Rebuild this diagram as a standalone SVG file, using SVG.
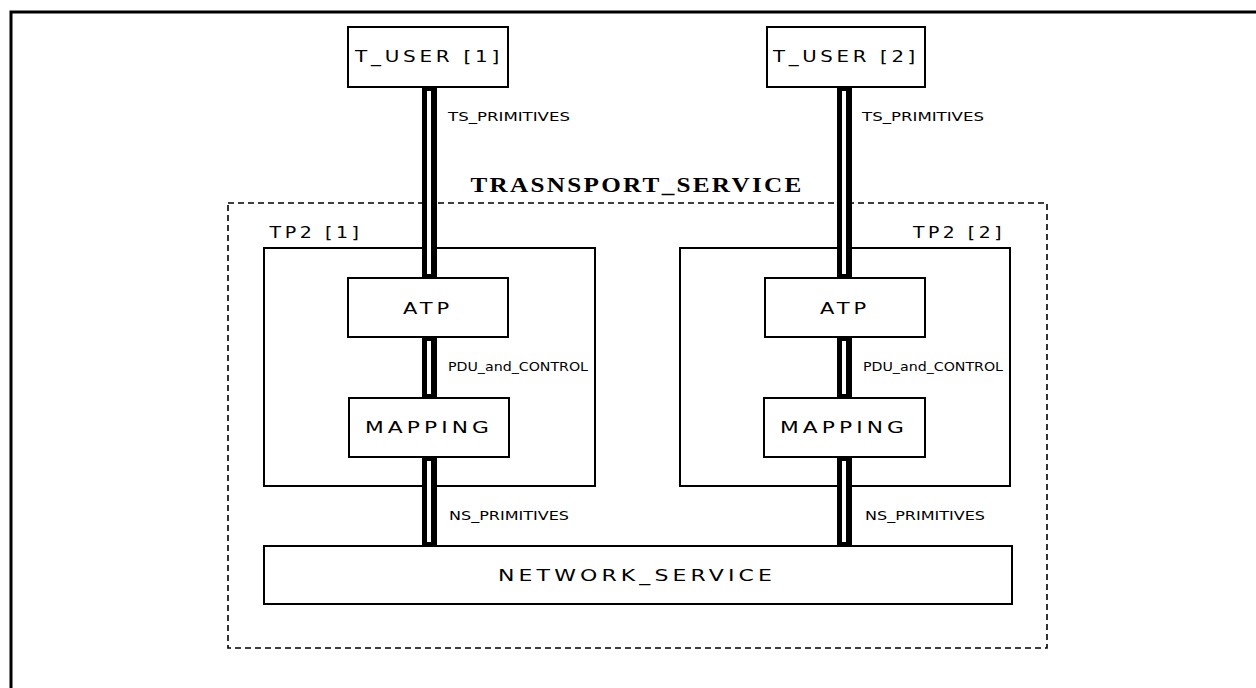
<svg xmlns="http://www.w3.org/2000/svg" width="1256" height="688" viewBox="0 0 1256 688">
<style>
.box{fill:#fff;stroke:#000;stroke-width:2}
.frame{fill:none;stroke:#000;stroke-width:3}
.dash{fill:none;stroke:#000;stroke-width:1.6;stroke-dasharray:6 4}
.lbl{font-family:"DejaVu Sans",sans-serif;font-size:16px;letter-spacing:3px;fill:#000;text-anchor:middle;dominant-baseline:central}
.ch{font-family:"DejaVu Sans Condensed","DejaVu Sans",sans-serif;font-size:12px;fill:#000;dominant-baseline:central}
.title{font-family:"Liberation Serif",serif;font-weight:bold;font-size:22px;letter-spacing:2px;fill:#000;text-anchor:middle;dominant-baseline:central}
.pipe{fill:#000}
.pipein{fill:#fff}
</style>
<rect width="1256" height="688" fill="#fff"/>
<path class="frame" d="M11,688 V12 H1256"/>

<g id="transport_service">
<rect class="dash" x="228" y="203" width="819" height="445"/>
<text class="title" x="637" y="184" textLength="333" lengthAdjust="spacingAndGlyphs">TRASNSPORT_SERVICE</text>
</g>

<g id="tp2_1">
<rect class="box" x="264" y="248" width="331" height="238"/>
<text class="lbl" x="316" y="232" textLength="93" lengthAdjust="spacingAndGlyphs">TP2 [1]</text>
</g>
<g id="tp2_2">
<rect class="box" x="680" y="248" width="330" height="238"/>
<text class="lbl" x="959" y="232" textLength="92" lengthAdjust="spacingAndGlyphs">TP2 [2]</text>
</g>

<g id="t_user_1">
<rect class="box" x="348" y="27" width="160" height="60"/>
<text class="lbl" x="429" y="56" textLength="148" lengthAdjust="spacingAndGlyphs">T_USER [1]</text>
</g>
<g id="t_user_2">
<rect class="box" x="767" y="27" width="158" height="60"/>
<text class="lbl" x="846" y="56" textLength="146" lengthAdjust="spacingAndGlyphs">T_USER [2]</text>
</g>

<g id="atp_1">
<rect class="box" x="348" y="278" width="160" height="59"/>
<text class="lbl" x="428" y="308" textLength="50" lengthAdjust="spacingAndGlyphs">ATP</text>
</g>
<g id="atp_2">
<rect class="box" x="765" y="278" width="160" height="59"/>
<text class="lbl" x="845" y="308" textLength="50" lengthAdjust="spacingAndGlyphs">ATP</text>
</g>

<g id="mapping_1">
<rect class="box" x="349" y="398" width="160" height="59"/>
<text class="lbl" x="429" y="427" textLength="128" lengthAdjust="spacingAndGlyphs">MAPPING</text>
</g>
<g id="mapping_2">
<rect class="box" x="764" y="398" width="161" height="59"/>
<text class="lbl" x="844" y="427" textLength="128" lengthAdjust="spacingAndGlyphs">MAPPING</text>
</g>

<g id="network_service">
<rect class="box" x="264" y="546" width="748" height="58"/>
<text class="lbl" x="637" y="575" textLength="278" lengthAdjust="spacingAndGlyphs">NETWORK_SERVICE</text>
</g>

<g id="connectors">
<rect class="pipe" x="422" y="86" width="15" height="193"/>
<rect class="pipein" x="427" y="91" width="4" height="183"/>
<rect class="pipe" x="837" y="86" width="15" height="193"/>
<rect class="pipein" x="842" y="91" width="4" height="183"/>
<rect class="pipe" x="422" y="336" width="15" height="63"/>
<rect class="pipein" x="427" y="341" width="4" height="53"/>
<rect class="pipe" x="837" y="336" width="15" height="63"/>
<rect class="pipein" x="842" y="341" width="4" height="53"/>
<rect class="pipe" x="422" y="456" width="15" height="91"/>
<rect class="pipein" x="427" y="461" width="4" height="81"/>
<rect class="pipe" x="837" y="456" width="15" height="91"/>
<rect class="pipein" x="842" y="461" width="4" height="81"/>
<text class="ch" x="448" y="117" textLength="122" lengthAdjust="spacingAndGlyphs">TS_PRIMITIVES</text>
<text class="ch" x="862" y="117" textLength="122" lengthAdjust="spacingAndGlyphs">TS_PRIMITIVES</text>
<text class="ch" x="448" y="367" textLength="140" lengthAdjust="spacingAndGlyphs">PDU_and_CONTROL</text>
<text class="ch" x="863" y="367" textLength="140" lengthAdjust="spacingAndGlyphs">PDU_and_CONTROL</text>
<text class="ch" x="449" y="516" textLength="120" lengthAdjust="spacingAndGlyphs">NS_PRIMITIVES</text>
<text class="ch" x="865" y="516" textLength="120" lengthAdjust="spacingAndGlyphs">NS_PRIMITIVES</text>
</g>
</svg>
